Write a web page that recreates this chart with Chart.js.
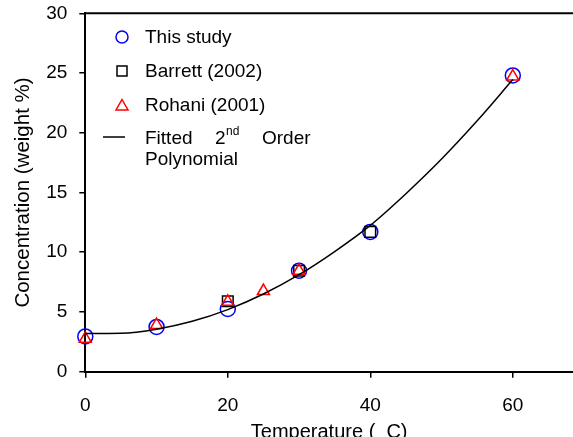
<!DOCTYPE html>
<html>
<head>
<meta charset="utf-8">
<title>Concentration vs Temperature</title>
<script src="https://cdn.jsdelivr.net/npm/chart.js"></script>
<style>
	html, body { margin: 0; padding: 0; background: #fff; }
</style>
</head>
<body>
<canvas id="chart" width="573" height="437"></canvas>
<script>
'use strict';

// values
const studyTemp = [0, 10, 20, 30, 40, 60];
const studyConc = [2.95, 3.75, 5.25, 8.45, 11.7, 24.8];

const barrettTemp = [20, 30, 40];
const barrettConc = [5.9, 8.45, 11.7];

const rohaniTemp = [0, 10, 20, 25, 30, 60];
const rohaniConc = [2.75, 3.9, 5.85, 6.75, 8.45, 24.7];

// fitted 2nd order polynomial
const fitTemp = [0, 5, 10, 15, 20, 25, 30, 35, 40, 45, 50, 55, 60];
const fitConc = [3.2, 3.22, 3.56, 4.22, 5.2, 6.5, 8.12, 10.06, 12.25, 14.9, 17.8, 21.0, 24.45];

const xTicks = [0, 20, 40, 60];
const yTicks = [0, 5, 10, 15, 20, 25, 30];

const fontFamily = "'Liberation Sans', Arial, sans-serif";

function toPoints(xs, ys) {
	return xs.map((x, i) => ({ x: x, y: ys[i] }));
}

Chart.defaults.font.family = fontFamily;
Chart.defaults.color = '#000';

// top frame line and the hand placed legend of the original
const framePlugin = {
	id: 'frame',
	afterDraw(chart) {
		const ctx = chart.ctx;
		const area = chart.chartArea;
		ctx.save();
		ctx.strokeStyle = '#000';
		ctx.lineWidth = 2;
		ctx.beginPath();
		ctx.moveTo(area.left - 1, area.top);
		ctx.lineTo(chart.width, area.top);
		ctx.stroke();

		const mx = 122;
		ctx.lineWidth = 1.5;

		// circle
		ctx.strokeStyle = '#0000ff';
		ctx.beginPath();
		ctx.arc(mx, 37, 6, 0, Math.PI * 2);
		ctx.stroke();

		// square
		ctx.strokeStyle = '#000';
		ctx.strokeRect(mx - 5, 66, 10, 10);

		// triangle
		ctx.strokeStyle = '#ff0000';
		ctx.beginPath();
		ctx.moveTo(mx, 99.5);
		ctx.lineTo(mx + 6, 110);
		ctx.lineTo(mx - 6, 110);
		ctx.closePath();
		ctx.stroke();

		// line
		ctx.strokeStyle = '#000';
		ctx.beginPath();
		ctx.moveTo(103, 137);
		ctx.lineTo(125, 137);
		ctx.stroke();

		ctx.fillStyle = '#000';
		ctx.textBaseline = 'middle';
		ctx.textAlign = 'left';
		ctx.font = '19px ' + fontFamily;
		ctx.fillText('This study', 145, 38);
		ctx.fillText('Barrett (2002)', 145, 72);
		ctx.fillText('Rohani (2001)', 145, 106);
		ctx.fillText('Fitted', 145, 139);
		ctx.fillText('2', 215, 139);
		ctx.fillText('Order', 262, 139);
		ctx.fillText('Polynomial', 145, 160);
		ctx.font = '12px ' + fontFamily;
		ctx.fillText('nd', 226, 132);
		ctx.restore();
	}
};

const axisGrid = {
	drawOnChartArea: false,
	drawTicks: true,
	tickLength: 6,
	color: '#000',
	lineWidth: 1.5
};

new Chart(document.getElementById('chart'), {
	type: 'scatter',
	data: {
		datasets: [
			{
				label: 'Fitted 2nd Order Polynomial',
				type: 'line',
				data: toPoints(fitTemp, fitConc),
				borderColor: '#000',
				borderWidth: 1.5,
				pointRadius: 0,
				cubicInterpolationMode: 'monotone',
				fill: false,
				clip: false,
				order: 0
			},
			{
				label: 'Rohani (2001)',
				data: toPoints(rohaniTemp, rohaniConc),
				pointStyle: 'triangle',
				pointRadius: 7,
				borderColor: '#ff0000',
				backgroundColor: 'rgba(0,0,0,0)',
				borderWidth: 1.5,
				clip: false,
				order: 1
			},
			{
				label: 'Barrett (2002)',
				data: toPoints(barrettTemp, barrettConc),
				pointStyle: 'rect',
				pointRadius: 7.5,
				borderColor: '#000',
				backgroundColor: 'rgba(0,0,0,0)',
				borderWidth: 1.5,
				clip: false,
				order: 2
			},
			{
				label: 'This study',
				data: toPoints(studyTemp, studyConc),
				pointStyle: 'circle',
				pointRadius: 7.5,
				borderColor: '#0000ff',
				backgroundColor: 'rgba(0,0,0,0)',
				borderWidth: 1.5,
				clip: false,
				order: 3
			}
		]
	},
	options: {
		responsive: false,
		animation: false,
		layout: {
			autoPadding: false,
			padding: { top: 13.3, right: 0, bottom: 0, left: 0 }
		},
		plugins: {
			legend: { display: false },
			tooltip: { enabled: false }
		},
		scales: {
			x: {
				type: 'linear',
				min: 0,
				max: 68.45, // axis runs off the right edge in the original
				afterBuildTicks: (scale) => {
					scale.ticks = xTicks.map(v => ({ value: v }));
				},
				afterFit: (scale) => {
					scale.height = 65.3;
					scale.paddingLeft = 0;
					scale.paddingRight = 0;
				},
				grid: axisGrid,
				border: { display: true, color: '#000', width: 2 },
				ticks: {
					color: '#000',
					font: { size: 19 },
					padding: 17,
					maxRotation: 0
				},
				title: {
					display: true,
					text: 'Temperature (  C)',
					color: '#000',
					font: { size: 20, lineHeight: 1 },
					padding: { top: 0, bottom: -5 }
				}
			},
			y: {
				type: 'linear',
				min: 0,
				max: 30,
				afterBuildTicks: (scale) => {
					scale.ticks = yTicks.map(v => ({ value: v }));
				},
				afterFit: (scale) => {
					scale.width = 85.3;
					scale.paddingTop = 0;
					scale.paddingBottom = 0;
				},
				grid: axisGrid,
				border: { display: true, color: '#000', width: 2 },
				ticks: {
					color: '#000',
					font: { size: 19 },
					padding: 12
				},
				title: {
					display: true,
					text: 'Concentration (weight %)',
					color: '#000',
					font: { size: 20.5, lineHeight: 1 },
					padding: { top: 13, bottom: 0 }
				}
			}
		}
	},
	plugins: [framePlugin]
});
</script>
</body>
</html>
